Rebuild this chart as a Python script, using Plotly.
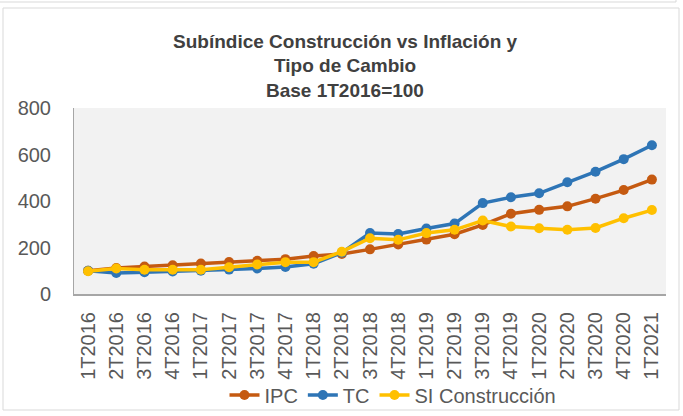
import plotly.graph_objects as go

categories = ["1T2016", "2T2016", "3T2016", "4T2016", "1T2017", "2T2017", "3T2017", "4T2017",
              "1T2018", "2T2018", "3T2018", "4T2018", "1T2019", "2T2019", "3T2019", "4T2019",
              "1T2020", "2T2020", "3T2020", "4T2020", "1T2021"]
ipc = [100, 112, 118, 124, 131, 138, 143, 150, 163, 172, 192, 213, 234, 257, 297, 345, 362, 377, 410, 447, 492]
tc = [100, 90, 94, 97, 100, 105, 110, 116, 130, 178, 262, 258, 282, 303, 391, 416, 433, 481, 526, 580, 640]
si = [98, 110, 104, 104, 104, 115, 127, 137, 137, 182, 240, 233, 262, 276, 316, 290, 283, 276, 284, 326, 361]

series_names = ["IPC", "TC", "SI Construcción"]
colors = ["#C55A11", "#2E75B6", "#FFC000"]

fig = go.Figure()
for name, vals, col in zip(series_names, [ipc, tc, si], colors):
    fig.add_trace(go.Scatter(
        x=categories, y=vals, name=name, mode="lines+markers",
        line=dict(color=col, width=3.5),
        marker=dict(color=col, size=10, symbol="circle"),
    ))

L, R, T, B = 74, 17, 108, 122
W, H = 683, 416
pw, ph = W - L - R, H - T - B

def px(x):
    return (x - L) / pw

def py(y):
    return (H - B - y) / ph

title_lines = ["Subíndice Construcción vs Inflación y", "Tipo de Cambio", "Base 1T2016=100"]
title_y = [41, 65, 90]
annotations = []
for txt, yy in zip(title_lines, title_y):
    annotations.append(dict(
        text="<b>" + txt + "</b>", xref="paper", yref="paper", x=px(345), y=py(yy),
        xanchor="center", yanchor="middle", showarrow=False,
        font=dict(family="Liberation Sans, Arial, sans-serif", size=19, color="#404040"),
    ))

shapes = [
    dict(type="rect", xref="paper", yref="paper", x0=px(3), x1=px(679), y0=py(410), y1=py(8),
         line=dict(color="#D9D9D9", width=1), fillcolor="rgba(0,0,0,0)", layer="below"),
    dict(type="line", xref="paper", yref="paper", x0=px(0), x1=px(676), y0=py(2), y1=py(2),
         line=dict(color="#D9D9D9", width=1)),
    dict(type="line", xref="paper", yref="paper", x0=px(676), x1=px(676), y0=py(0), y1=py(2),
         line=dict(color="#D9D9D9", width=1)),
]

fig.update_layout(
    width=W, height=H,
    margin=dict(l=L, r=R, t=T, b=B, autoexpand=False),
    paper_bgcolor="white",
    plot_bgcolor="#F2F2F2",
    showlegend=True,
    legend=dict(orientation="h", x=px(393), xanchor="center", y=py(395), yanchor="middle",
                font=dict(family="Liberation Sans, Arial, sans-serif", size=20, color="#595959"),
                itemwidth=30, bgcolor="rgba(0,0,0,0)"),
    annotations=annotations,
    shapes=shapes,
    xaxis=dict(
        type="category", showgrid=False, tickangle=-90, automargin=False,
        tickfont=dict(family="Liberation Sans, Arial, sans-serif", size=20, color="#595959"),
        showline=True, linecolor="#A6A6A6", linewidth=2, ticks="", range=[-0.5, 20.5],
        ticklabelstandoff=8,
    ),
    yaxis=dict(
        range=[0, 800], tickvals=[0, 200, 400, 600, 800], showgrid=False, zeroline=False,
        automargin=False,
        tickfont=dict(family="Liberation Sans, Arial, sans-serif", size=20, color="#595959"),
        showline=True, linecolor="#A6A6A6", linewidth=1, ticks="", ticklabelstandoff=18,
    ),
)

fig.write_html("out.html", config={"displayModeBar": False},
               post_script="document.body.style.margin='0';document.body.style.overflow='hidden';")
